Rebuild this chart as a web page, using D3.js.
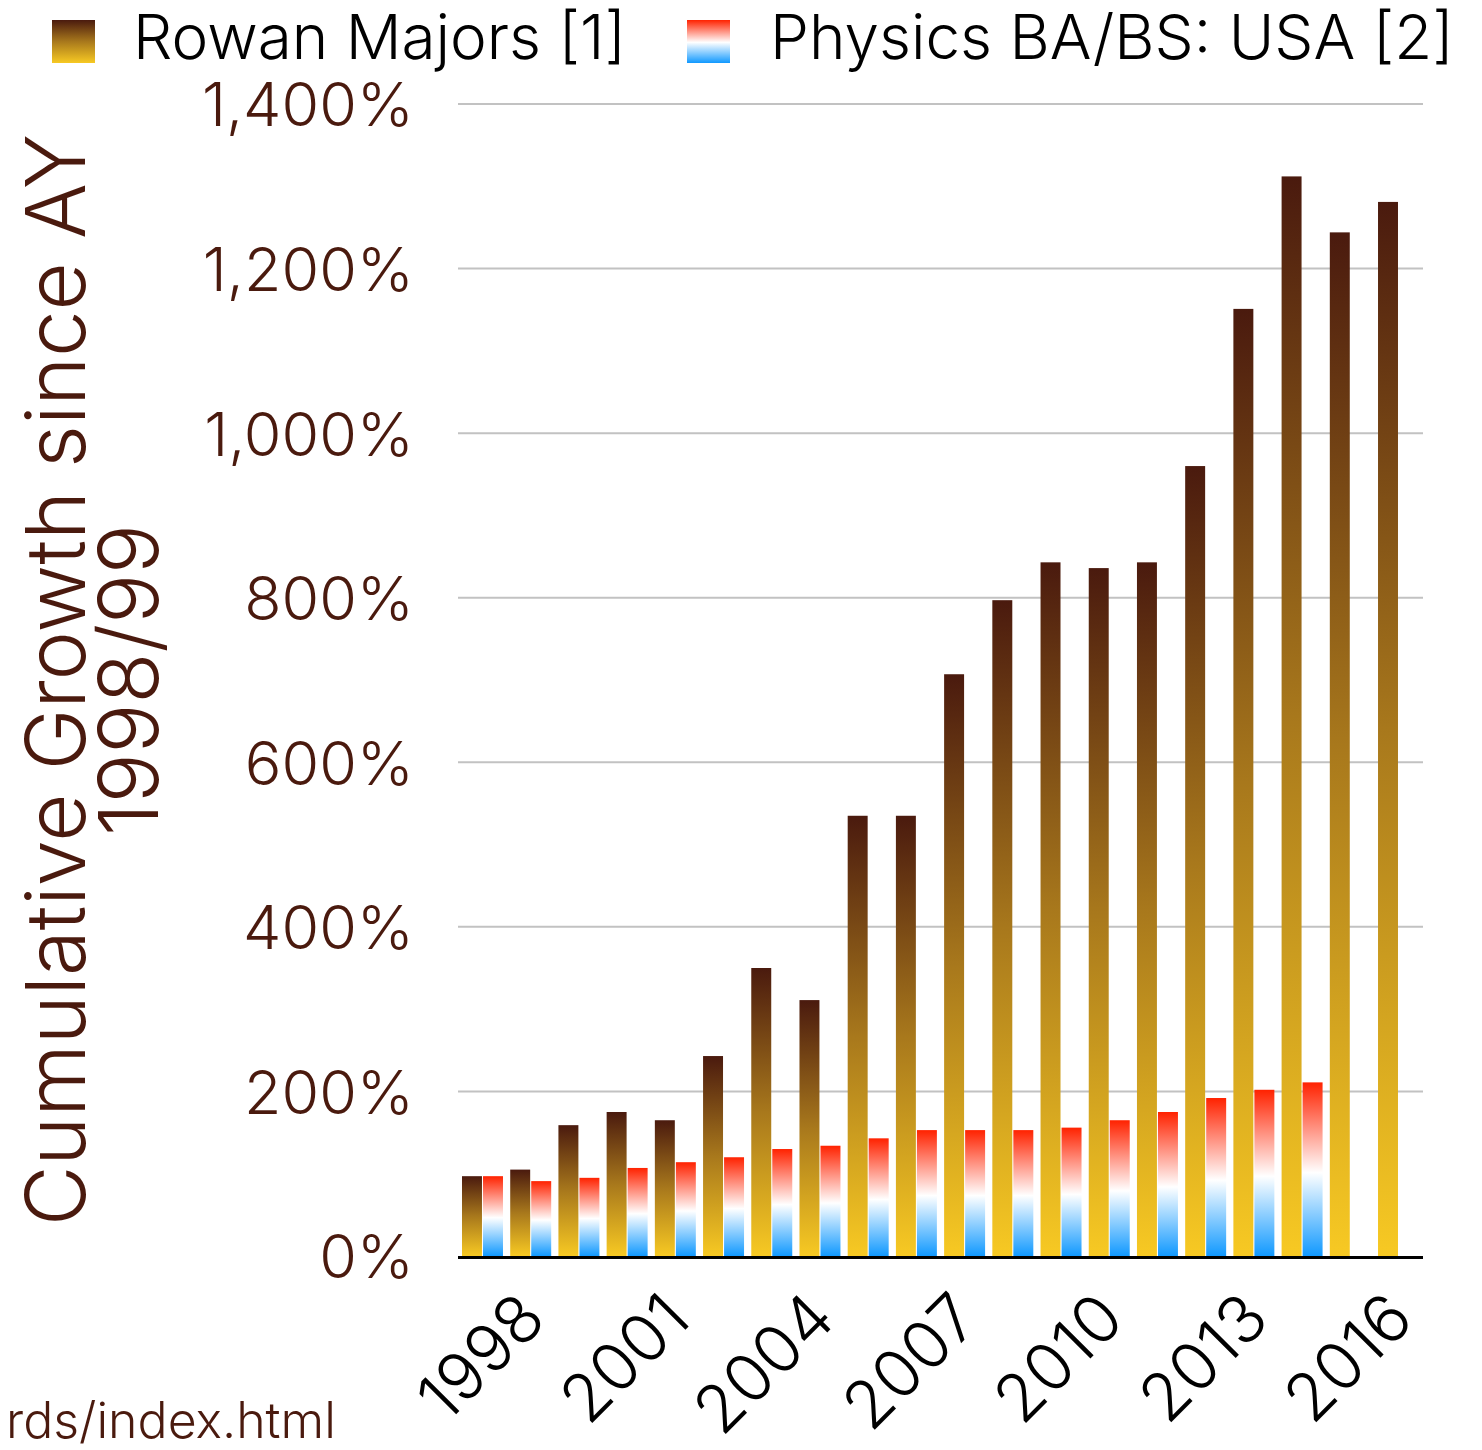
<!DOCTYPE html>
<html>
<head>
<meta charset="utf-8">
<script src="https://cdn.jsdelivr.net/npm/d3@7"></script>
<style>
  html, body { margin: 0; padding: 0; background: #fff; }
  svg { display: block; }
  text { font-family: Inter, Lato, sans-serif; font-weight: 300; }
</style>
</head>
<body>
<svg id="chart" width="1482" height="1450"></svg>
<script>
// ---- data ----
const years = [1998,1999,2000,2001,2002,2003,2004,2005,2006,2007,2008,2009,2010,2011,2012,2013,2014,2015,2016,2017];
const rowanMajors = [97,105,159,175,165,243,350,311,535,535,707,797,843,836,843,960,1151,1312,1244,1281];
const physicsUSA = [97,91,95,107,114,120,130,134,143,153,153,153,156,165,175,192,202,211,null,null];
const seriesNames = ["Rowan Majors [1]", "Physics BA/BS: USA [2]"];
const yTicks = [0,200,400,600,800,1000,1200,1400];
const xTickYears = [1998,2001,2004,2007,2010,2013,2016];
const yTitleLines = ["Cumulative Growth since AY", "1998/99"];
const footerText = "rds/index.html";

(function () {
const svg = d3.select("#chart");
const brown = "#4a1a0e";

// gradients
const defs = svg.append("defs");
const gR = defs.append("linearGradient").attr("id","gRowan").attr("x1",0).attr("y1",0).attr("x2",0).attr("y2",1);
gR.append("stop").attr("offset","0%").attr("stop-color","#4a1a0e");
gR.append("stop").attr("offset","50%").attr("stop-color","#a8781c");
gR.append("stop").attr("offset","100%").attr("stop-color","#f7c923");
const gP = defs.append("linearGradient").attr("id","gPhys").attr("x1",0).attr("y1",0).attr("x2",0).attr("y2",1);
gP.append("stop").attr("offset","0%").attr("stop-color","#ff2200");
gP.append("stop").attr("offset","52%").attr("stop-color","#ffffff");
gP.append("stop").attr("offset","100%").attr("stop-color","#1199ff");

const mLeft = 458, mRight = 1423, mTop = 104, mBottom = 1256;

const x = d3.scaleBand().domain(years).range([mLeft, mRight]).paddingInner(0.15).paddingOuter(0.083);
const xs = d3.scaleBand().domain([0,1]).range([0, x.bandwidth()]).paddingInner(0.05);
const y = d3.scaleLinear().domain([0, 1400]).range([mBottom, mTop]);

// gridlines
svg.append("g").selectAll("line").data(yTicks.filter(d => d > 0)).join("line")
  .attr("x1", mLeft).attr("x2", mRight)
  .attr("y1", d => y(d)).attr("y2", d => y(d))
  .attr("stroke", "#c2c2c2").attr("stroke-width", 2);

// y axis labels
const yAxis = d3.axisLeft(y).tickValues(yTicks).tickSize(0).tickPadding(0)
  .tickFormat(d => d3.format(",")(d) + "%");
const ya = svg.append("g").attr("transform", `translate(${mLeft - 44},0)`).call(yAxis);
ya.select(".domain").remove();
ya.selectAll("text").attr("fill", brown).style("font-size", "61px").attr("dy", "0.36em")
  .style("font-family", "Inter, Lato, sans-serif");

// bars
const groups = svg.append("g").selectAll("g").data(years).join("g")
  .attr("transform", d => `translate(${x(d)},0)`);
groups.append("rect")
  .attr("x", xs(0)).attr("width", xs.bandwidth())
  .attr("y", (d,i) => y(rowanMajors[i]))
  .attr("height", (d,i) => y(0) - y(rowanMajors[i]))
  .attr("fill", "url(#gRowan)");
groups.filter((d,i) => physicsUSA[i] != null).append("rect")
  .attr("x", xs(1)).attr("width", xs.bandwidth())
  .attr("y", d => y(physicsUSA[years.indexOf(d)]))
  .attr("height", d => y(0) - y(physicsUSA[years.indexOf(d)]))
  .attr("fill", "url(#gPhys)");

// baseline
svg.append("line").attr("x1", mLeft).attr("x2", mRight)
  .attr("y1", y(0) + 1.5).attr("y2", y(0) + 1.5)
  .attr("stroke", "#000").attr("stroke-width", 3);

// x labels
svg.append("g").selectAll("text").data(xTickYears).join("text")
  .attr("transform", d => `translate(${x(d) + x.bandwidth()/2 + 66},1322) rotate(-45)`)
  .attr("text-anchor", "end")
  .attr("fill", "#000").style("font-size", "66px")
  .text(d => d);

// y title
const yt = svg.append("text")
  .attr("transform", "translate(0,680) rotate(-90)")
  .attr("text-anchor", "middle").attr("fill", brown).style("font-size", "83px");
yt.append("tspan").attr("x", 0).attr("y", 85).text(yTitleLines[0]);
yt.append("tspan").attr("x", 0).attr("y", 158).text(yTitleLines[1]);

// legend
const legend = [
  {name: seriesNames[0], fill: "url(#gRowan)", sx: 52, tx: 133},
  {name: seriesNames[1], fill: "url(#gPhys)", sx: 687, tx: 770}
];
const lg = svg.append("g").selectAll("g").data(legend).join("g");
lg.append("rect").attr("x", d => d.sx).attr("y", 20).attr("width", 43).attr("height", 43).attr("fill", d => d.fill);
lg.append("text").attr("x", d => d.tx).attr("y", 59).attr("fill", "#000").style("font-size", "62px").text(d => d.name);

// footer
svg.append("text").attr("x", 6).attr("y", 1438)
  .attr("fill", brown).style("font-size", "50px").text(footerText);
})();
</script>
</body>
</html>
